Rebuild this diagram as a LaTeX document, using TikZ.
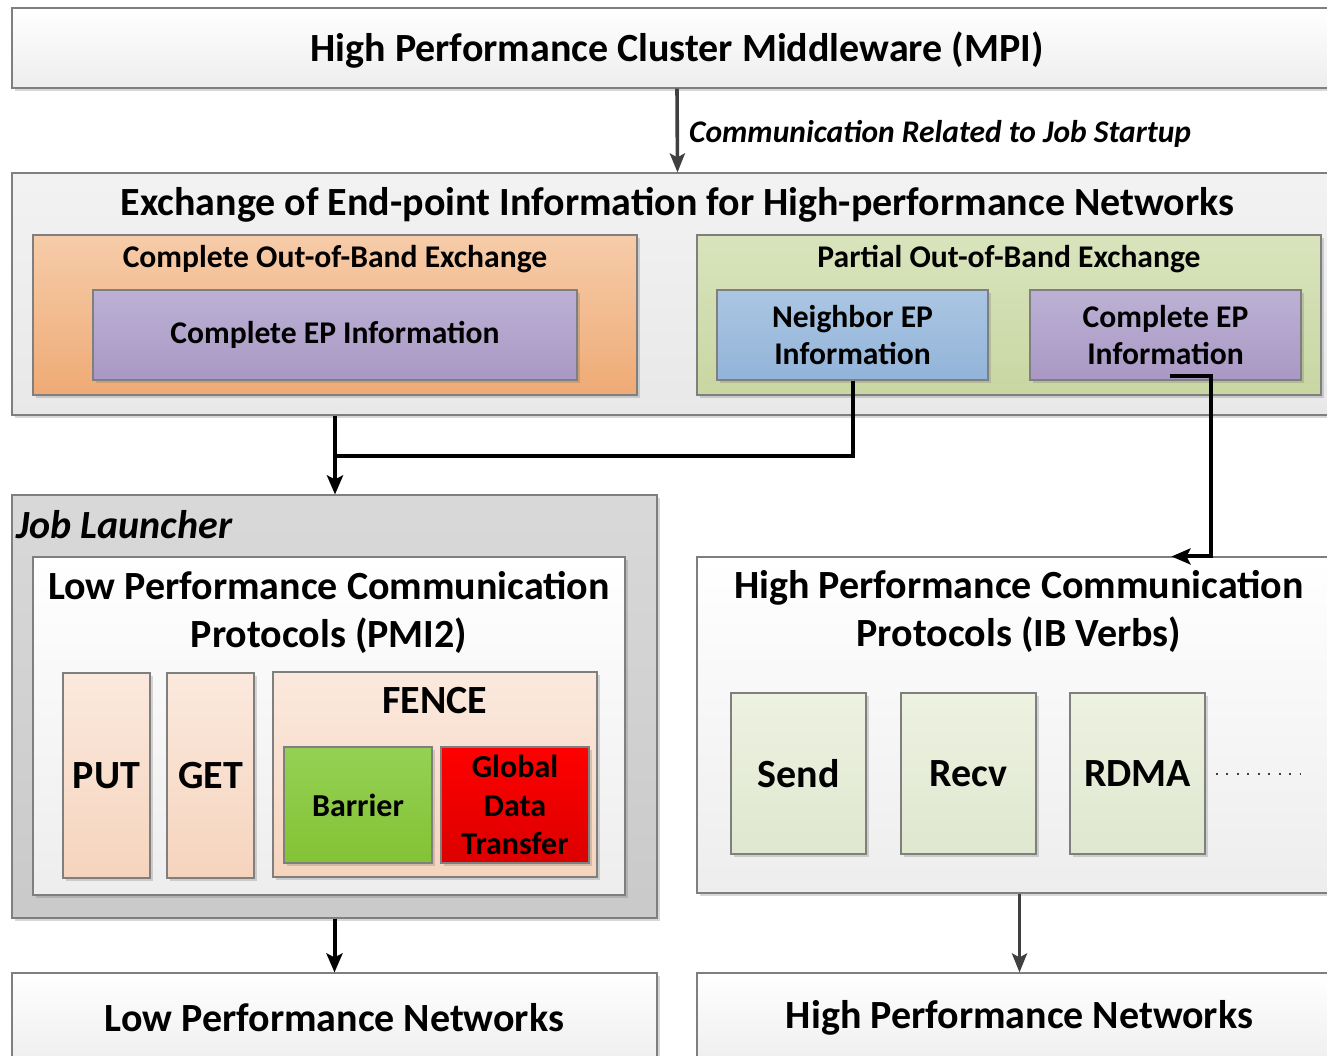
\documentclass[tikz,border=0pt]{standalone}
\usepackage{fontspec}
\setmainfont{Carlito}
\usetikzlibrary{arrows.meta,shadows,calc}

\definecolor{edge}{HTML}{7F7F7F}
\definecolor{arrowgray}{HTML}{404040}
\definecolor{orangetop}{HTML}{F6CCA9}
\definecolor{orangebot}{HTML}{EFAA75}
\definecolor{purpletop}{HTML}{BCB1D4}
\definecolor{purplebot}{HTML}{A998C4}
\definecolor{greentop}{HTML}{D9E4BD}
\definecolor{greenbot}{HTML}{C8D6A2}
\definecolor{bluetop}{HTML}{ABC6E3}
\definecolor{bluebot}{HTML}{92B4D9}
\definecolor{peachtop}{HTML}{FBE9DE}
\definecolor{peachbot}{HTML}{F5D4BD}
\definecolor{leaftop}{HTML}{94D153}
\definecolor{leafbot}{HTML}{84C236}
\definecolor{redtop}{HTML}{FF0000}
\definecolor{redbot}{HTML}{DC0000}
\definecolor{sagetop}{HTML}{EDF2E1}
\definecolor{sagebot}{HTML}{DFE7CF}

\tikzset{
  boxbase/.style={draw=edge, line width=1.1pt, inner sep=0pt, align=center,
    drop shadow={shadow xshift=3pt, shadow yshift=-3pt, opacity=0.25, fill=black!60}},
  sz/.style={font=\fontsize{#1}{\dimexpr #1pt*12/10\relax}\selectfont\bfseries},
  plainbox/.style={boxbase, top color=white, bottom color=black!7},
  greybox/.style={boxbase, top color=black!5, bottom color=black!9},
  launcherbox/.style={boxbase, top color=black!15, bottom color=black!21},
  orangebox/.style={boxbase, top color=orangetop, bottom color=orangebot},
  purplebox/.style={boxbase, top color=purpletop, bottom color=purplebot},
  greenbox/.style={boxbase, top color=greentop, bottom color=greenbot},
  bluebox/.style={boxbase, top color=bluetop, bottom color=bluebot},
  peachbox/.style={boxbase, top color=peachtop, bottom color=peachbot},
  leafbox/.style={boxbase, top color=leaftop, bottom color=leafbot},
  redbox/.style={boxbase, top color=redtop, bottom color=redbot},
  sagebox/.style={boxbase, top color=sagetop, bottom color=sagebot},
  blackline/.style={line width=4pt, draw=black},
  tipblack/.style={blackline, -{Stealth[length=19pt, width=16pt, inset=4pt]}},
  tipgray/.style={line width=3.6pt, draw=arrowgray, -{Stealth[length=19pt, width=15pt, inset=4pt]}},
}

\begin{document}
\begin{tikzpicture}[x=1pt, y=-1pt]
\clip (0,0) rectangle (1327,1055);
\fill[white] (0,0) rectangle (1327,1055);

% middleware layer
\node[plainbox, minimum width=1330pt, minimum height=80pt] (mpi) at (677,48) {};
\node[sz=40] (mpitext) at (677,50) {High Performance Cluster Middleware (MPI)};

% end-point exchange layer
\node[greybox, minimum width=1331pt, minimum height=242pt] (exch) at (677.5,294) {};
\node[sz=40] (exchtitle) at (677.5,205)
  {Exchange of End-point Information for High-performance Networks};

\node[orangebox, minimum width=604pt, minimum height=160pt] (orange) at (335,315) {};
\node[sz=31.6] (orangetitle) at (335,259) {Complete Out-of-Band Exchange};
\node[purplebox, sz=31.6, minimum width=484pt, minimum height=90pt] (cepL) at (335,335)
  {Complete EP Information};

\node[greenbox, minimum width=624pt, minimum height=160pt] (green) at (1009,315) {};
\node[sz=31.6] (greentitle) at (1009,259) {Partial Out-of-Band Exchange};
\node[bluebox, sz=31.6, minimum width=271pt, minimum height=90pt] (nb) at (852.5,335)
  {Neighbor EP\\Information};
\node[purplebox, sz=31.6, minimum width=271pt, minimum height=90pt] (cepR) at (1165.5,335)
  {Complete EP\\Information};

% job launcher with low performance protocols
\node[launcherbox, minimum width=645pt, minimum height=423pt] (jl) at (334.5,706.5) {};
\node[font=\fontsize{40}{48}\selectfont\bfseries\itshape, anchor=west, inner sep=0pt] (jltitle) at (16,525) {Job Launcher};
\node[plainbox, minimum width=592pt, minimum height=338pt] (lpc) at (329,726) {};
\node[sz=40, align=center] (lpctitle) at (329,612)
  {Low Performance Communication\\Protocols (PMI2)};

\node[peachbox, sz=40, minimum width=87pt, minimum height=205pt] (put) at (106.5,775.5) {PUT};
\node[peachbox, sz=40, minimum width=87pt, minimum height=205pt] (get) at (210.5,775.5) {GET};
\node[peachbox, minimum width=324pt, minimum height=205pt] (fence) at (435,774.5) {};
\node[sz=40] (fencetitle) at (435,701) {FENCE};
\node[leafbox, sz=32, minimum width=148pt, minimum height=116pt] (barrier) at (358,805) {Barrier};
\node[redbox, sz=32, minimum width=148pt, minimum height=116pt] (gdt) at (515,805)
  {Global\\Data\\Transfer};

% high performance protocols
\node[plainbox, minimum width=645pt, minimum height=336pt] (hpc) at (1019.5,725) {};
\node[sz=40, align=center] (hpctitle) at (1019,611)
  {High Performance Communication\\Protocols (IB Verbs)};
\node[sagebox, sz=40, minimum width=135pt, minimum height=161pt] (send) at (798.5,773.5) {Send};
\node[sagebox, sz=40, minimum width=135pt, minimum height=161pt] (recv) at (968.5,773.5) {Recv};
\node[sagebox, sz=40, minimum width=135pt, minimum height=161pt] (rdma) at (1137.5,773.5) {RDMA};
\coordinate (more) at (1300,773.5);
\draw[draw=black!75, line width=2pt, dash pattern=on 2pt off 8.5pt] ([xshift=10pt]rdma.east) -- (more);

% networks
\node[plainbox, minimum width=645pt, minimum height=97pt] (lpn) at (334.5,1021.5) {};
\node[sz=40] (lpntext) at (334.5,1018) {Low Performance Networks};
\node[plainbox, minimum width=645pt, minimum height=97pt] (hpn) at (1019.5,1021.5) {};
\node[sz=40] (hpntext) at (1019.5,1018) {High Performance Networks};

% connectors
\draw[tipgray] (mpi.south) -- (exch.north);
\node[font=\fontsize{31.5}{38}\selectfont\bfseries\itshape, anchor=west, inner sep=0pt] (startup) at (689,134)
  {Communication Related to Job Startup};

\draw[tipblack] (orange.south |- exch.south) -- (jl.north -| orange.south);
\draw[blackline] (nb.south) |- ($(orange.south)+(0,60)$);
\draw[tipblack] ([xshift=4pt,yshift=5pt]cepR.south) -- ++(41,0) |- ([xshift=152pt]hpc.north);

\draw[tipblack] (jl.south) -- (lpn.north);
\draw[tipgray] (hpc.south) -- (hpn.north);
\end{tikzpicture}
\end{document}
